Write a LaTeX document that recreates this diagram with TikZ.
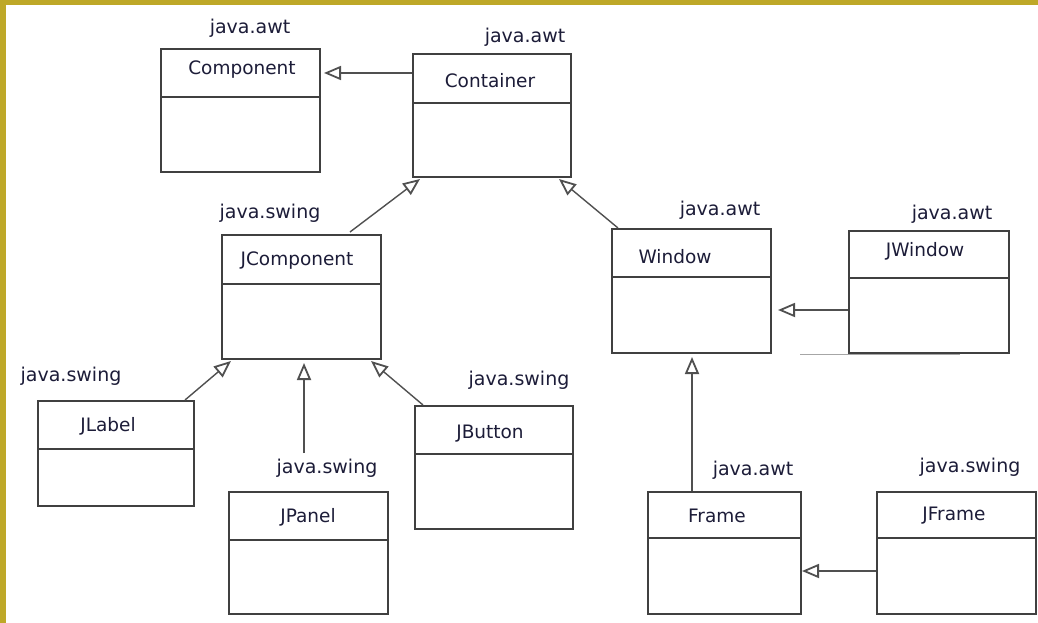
\documentclass[tikz,border=0pt]{standalone}
\usepackage{fontspec}
\setmainfont{DejaVu Sans}
\usetikzlibrary{arrows.meta}
\definecolor{gold}{RGB}{190,168,40}
\definecolor{boxline}{RGB}{64,64,64}
\definecolor{conn}{RGB}{80,80,80}
\definecolor{txt}{RGB}{28,28,56}
\tikzset{
  cls/.style={draw=boxline, line width=2pt, fill=white, inner sep=0pt, anchor=north west},
  divline/.style={draw=boxline, line width=2pt},
  ttl/.style={font=\fontsize{18.5}{20}\selectfont, text=txt, inner sep=0pt},
  pkg/.style={font=\fontsize{19}{21}\selectfont, text=txt, inner sep=0pt},
  inh/.style={draw=conn, line width=1.4pt, -{Triangle[open, length=17pt, width=14pt, line width=1.8pt]}},
  artifact/.style={draw=gray!70, line width=1pt}
}
\newcommand\umlbox[9]{%
  \node[cls, minimum width=#4pt, minimum height=#5pt] (#1) at (#2,#3) {};
  \draw[divline] ([yshift=-#6pt]#1.north west) -- ([yshift=-#6pt]#1.north east);
  \node[ttl] (#1t) at (#7,#8) {#9};
}
\begin{document}
\begin{tikzpicture}[x=1pt,y=-1pt]
\useasboundingbox (0,0) rectangle (1038,623);
\fill[white] (0,0) rectangle (1038,623);
\fill[gold] (0,0) rectangle (6,623);
\fill[gold] (0,0) rectangle (1038,5);

% classes
\umlbox{comp}{160}{48}{159}{123}{49}{242}{70}{Component}
\umlbox{cont}{412}{53}{158}{123}{50}{490}{81}{Container}
\umlbox{jcomp}{221}{234}{159}{124}{50}{297}{261}{JComponent}
\umlbox{win}{611}{228}{159}{124}{49}{675}{257}{Window}
\umlbox{jwin}{848}{230}{160}{122}{48}{925}{251}{JWindow}
\umlbox{jlab}{37}{400}{156}{105}{49}{108}{426}{JLabel}
\umlbox{jpan}{228}{491}{159}{122}{49}{308}{517}{JPanel}
\umlbox{jbut}{414}{405}{158}{123}{49}{490}{434}{JButton}
\umlbox{frame}{647}{491}{153}{122}{47}{717}{516}{Frame}
\umlbox{jframe}{876}{491}{159}{122}{47}{954}{516}{JFrame}

% package labels
\node[pkg] (pcomp) at (250,28) {java.awt};
\node[pkg] (pcont) at (525,37) {java.awt};
\node[pkg] (pjcomp) at (270,213) {java.swing};
\node[pkg] (pwin) at (720,210) {java.awt};
\node[pkg] (pjwin) at (952,214) {java.awt};
\node[pkg] (pjlab) at (71,376) {java.swing};
\node[pkg] (pjbut) at (519,380) {java.swing};
\node[pkg] (pjpan) at (327,468) {java.swing};
\node[pkg] (pframe) at (753,470) {java.awt};
\node[pkg] (pjframe) at (970,467) {java.swing};

% inheritance connectors
\draw[inh] ([yshift=-20pt]cont.north west) -- ([xshift=3pt,yshift=-20pt]cont.north west -| comp.east);
\draw[inh] ([xshift=129pt,yshift=2pt]jcomp.north west) -- ([xshift=8pt,yshift=-1pt]cont.south west);
\draw[inh] ([xshift=7pt]win.north west) -- ([xshift=-13pt,yshift=-1pt]cont.south east);
\draw[inh] ([xshift=-10pt]jlab.north east) -- ([xshift=10pt,yshift=-1pt]jcomp.south west);
\coordinate (jpanend) at (304,453);
\draw[inh] (jpanend) -- ([yshift=-3pt]jpanend |- jcomp.south);
\draw[inh] ([xshift=9pt]jbut.north west) -- ([xshift=-11pt,yshift=-1pt]jcomp.south east);
\draw[inh] ([yshift=-80pt]jwin.north west) -- ([xshift=6pt,yshift=-80pt]jwin.north west -| win.east);
\coordinate (frtop) at ([xshift=45pt]frame.north west);
\draw[inh] (frtop) -- ([yshift=-3pt]frtop |- win.south);
\draw[inh] ([yshift=-80pt]jframe.north west) -- ([yshift=-80pt]jframe.north west -| frame.east);

% small scan artifacts
\coordinate (art1) at (800,354);
\coordinate (art2) at (960,354);
\draw[artifact] (art1) -- (art2);
\end{tikzpicture}
\end{document}
